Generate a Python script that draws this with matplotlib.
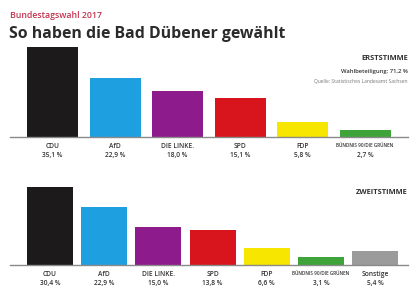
import matplotlib

matplotlib.use("Agg")

import matplotlib.pyplot as plt
import numpy as np

plt.rcParams["font.family"] = ["Open Sans", "DejaVu Sans"]

# data
parties_erst = ["CDU", "AfD", "DIE LINKE.", "SPD", "FDP", "BÜNDNIS 90/DIE GRÜNEN"]
values_erst = [35.1, 22.9, 18.0, 15.1, 5.8, 2.7]
colors_erst = ["#1c1a1b", "#1ea0e0", "#8e1b8c", "#d8141c", "#f7e600", "#3ea43a"]

parties_zweit = ["CDU", "AfD", "DIE LINKE.", "SPD", "FDP", "BÜNDNIS 90/DIE GRÜNEN", "Sonstige"]
values_zweit = [30.4, 22.9, 15.0, 13.8, 6.6, 3.1, 5.4]
colors_zweit = colors_erst + ["#9b9b9b"]

W, H = 412, 293
fig = plt.figure(figsize=(W / 100, H / 100), dpi=100)
fig.patch.set_facecolor("white")


def px_axes(left, bottom_from_top, width, height):
    # pixel rect -> figure fraction (bottom_from_top = baseline y from top)
    return fig.add_axes([left / W, (H - bottom_from_top) / H, width / W, height / H])


def pct(v):
    return f"{v:.1f}".replace(".", ",") + " %"


def draw_chart(ax, parties, values, colors, first_center, step, bar_w, ymax):
    n = len(parties)
    idx = np.arange(n)
    ax.bar(idx, values, width=bar_w / step, color=colors, edgecolor="none")
    ax.set_xlim(-first_center / step, (398 - first_center) / step)
    ax.set_ylim(0, ymax)
    for s in ["top", "left", "right"]:
        ax.spines[s].set_visible(False)
    ax.spines["bottom"].set_color("#8a8a8a")
    ax.spines["bottom"].set_linewidth(1.0)
    ax.set_yticks([])
    ax.set_xticks([])
    for i, (p, v) in enumerate(zip(parties, values)):
        fs = 3.3 if len(p) > 12 else 4.8
        ax.text(i, -0.06, p, transform=ax.get_xaxis_transform(), ha="center", va="top",
                fontsize=fs, color="#333333", fontweight="semibold")
        ax.text(i, -0.155, pct(v), transform=ax.get_xaxis_transform(), ha="center", va="top",
                fontsize=4.8, color="#333333", fontweight="semibold")


# Erststimme
ax1 = px_axes(10, 137, 398, 2.57 * 38)
draw_chart(ax1, parties_erst, values_erst, colors_erst, 42.5, 62.5, 51, 38)

# Zweitstimme
ax2 = px_axes(10, 265, 398, 2.55 * 38)
draw_chart(ax2, parties_zweit, values_zweit, colors_zweit, 40, 54.2, 46, 38)

# titles
fig.text(10 / W, 1 - 16 / H, "Bundestagswahl 2017", fontsize=6.3, color="#c43450",
         fontweight="semibold", va="center", ha="left")
fig.text(9 / W, 1 - 34 / H, "So haben die Bad Dübener gewählt", fontsize=11.4,
         color="#2b2b2b", fontweight="bold", va="center", ha="left")

fig.text(408 / W, 1 - 59 / H, "ERSTSTIMME", fontsize=5.4, color="#333333",
         fontweight="bold", ha="right", va="center")
fig.text(408 / W, 1 - 72 / H, "Wahlbeteiligung: 71,2 %", fontsize=4.2, color="#333333",
         fontweight="semibold", ha="right", va="center")
fig.text(408 / W, 1 - 81 / H, "Quelle: Statistisches Landesamt Sachsen", fontsize=3.6,
         color="#777777", ha="right", va="center")
fig.text(408 / W, 1 - 193 / H, "ZWEITSTIMME", fontsize=5.4, color="#333333",
         fontweight="bold", ha="right", va="center")

fig.savefig("out.png", dpi=100)
